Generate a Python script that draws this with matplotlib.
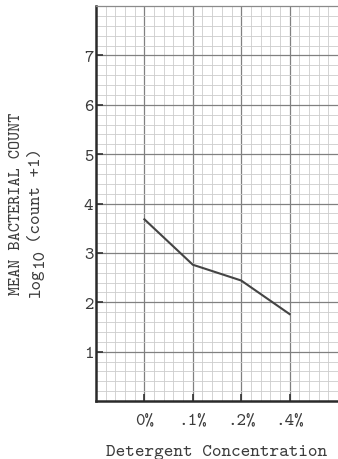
import matplotlib
matplotlib.use("Agg")
import matplotlib.pyplot as plt
from matplotlib.ticker import MultipleLocator

categories = ["0%", ".1%", ".2%", ".4%"]
mean_log_count = [3.68, 2.76, 2.44, 1.76]
y_ticks = [1, 2, 3, 4, 5, 6, 7]

plt.rcParams['font.family'] = ['cmtt10', 'DejaVu Sans Mono']

ink = '#3c3c3c'
W, H = 338, 460
fig = plt.figure(figsize=(W / 100, H / 100), dpi=100)
ax = fig.add_axes([96 / W, 58 / H, 242 / W, 395 / H])

x = list(range(len(categories)))
ax.plot(x, mean_log_count, color='#444444', lw=1.5, solid_joinstyle='miter')

ax.set_xlim(-1, 4)
ax.set_ylim(0, 8)
ax.xaxis.set_minor_locator(MultipleLocator(0.2))
ax.yaxis.set_minor_locator(MultipleLocator(0.2))
ax.yaxis.set_major_locator(MultipleLocator(1))
ax.grid(which='minor', color='#cccccc', lw=0.6)
ax.grid(which='major', color='#808080', lw=0.9)
ax.set_axisbelow(True)

ax.set_xticks(x)
ax.set_xticklabels(categories, fontsize=13, color=ink)
ax.set_yticks(y_ticks)
ax.set_yticklabels([str(v) for v in y_ticks], fontsize=13, color=ink)
ax.tick_params(which='major', direction='in', length=5, width=1.2, color='#333333', pad=8)
ax.tick_params(axis='y', pad=2)
ax.tick_params(which='minor', length=0)

for s in ['left', 'bottom']:
    ax.spines[s].set_linewidth(1.8)
    ax.spines[s].set_color('#2a2a2a')
ax.spines['right'].set_visible(False)
ax.spines['top'].set_color('#8a8a8a')
ax.spines['top'].set_linewidth(0.9)

ax.set_xlabel("Detergent Concentration", fontsize=13.2, color=ink, labelpad=12)

def vtext(px, py, s, size):
    fig.text(px / W, 1 - py / H, s, rotation=90, rotation_mode='anchor',
             ha='left', va='baseline', fontsize=size, color=ink)

vtext(20, 295, "MEAN BACTERIAL COUNT", 12.5)
vtext(40, 297, "log", 13)
vtext(43, 268, "10", 13)
vtext(40, 243, "(count +1)", 13)

fig.savefig("out.png", dpi=100)
